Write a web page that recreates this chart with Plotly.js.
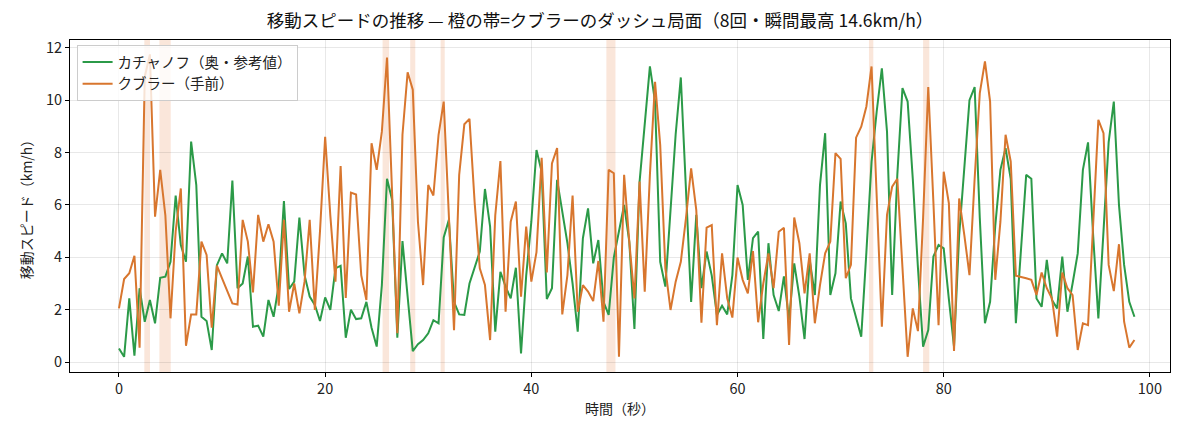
<!DOCTYPE html>
<html>
<head>
<meta charset="utf-8">
<script src="https://cdn.plot.ly/plotly-3.0.1.min.js"></script>
<style>
  html, body { margin: 0; padding: 0; background: #ffffff; }
  #chart { width: 1200px; height: 436px; }
</style>
</head>
<body>
<div id="chart"></div>
<script>
// Time (seconds)
const timeSec = [
  0, 0.5, 1, 1.5, 2, 2.5, 3, 3.5, 4, 4.5,
  5, 5.5, 6, 6.5, 7, 7.5, 8, 8.5, 9, 9.5,
  10, 10.5, 11, 11.5, 12, 12.5, 13, 13.5, 14, 14.5,
  15, 15.5, 16, 16.5, 17, 17.5, 18, 18.5, 19, 19.5,
  20, 20.5, 21, 21.5, 22, 22.5, 23, 23.5, 24, 24.5,
  25, 25.5, 26, 26.5, 27, 27.5, 28, 28.5, 29, 29.5,
  30, 30.5, 31, 31.5, 32, 32.5, 33, 33.5, 34, 34.5,
  35, 35.5, 36, 36.5, 37, 37.5, 38, 38.5, 39, 39.5,
  40, 40.5, 41, 41.5, 42, 42.5, 43, 43.5, 44, 44.5,
  45, 45.5, 46, 46.5, 47, 47.5, 48, 48.5, 49, 49.5,
  50, 50.5, 51, 51.5, 52, 52.5, 53, 53.5, 54, 54.5,
  55, 55.5, 56, 56.5, 57, 57.5, 58, 58.5, 59, 59.5,
  60, 60.5, 61, 61.5, 62, 62.5, 63, 63.5, 64, 64.5,
  65, 65.5, 66, 66.5, 67, 67.5, 68, 68.5, 69, 69.5,
  70, 70.5, 71, 71.5, 72, 72.5, 73, 73.5, 74, 74.5,
  75, 75.5, 76, 76.5, 77, 77.5, 78, 78.5, 79, 79.5,
  80, 80.5, 81, 81.5, 82, 82.5, 83, 83.5, 84, 84.5,
  85, 85.5, 86, 86.5, 87, 87.5, 88, 88.5, 89, 89.5,
  90, 90.5, 91, 91.5, 92, 92.5, 93, 93.5, 94, 94.5,
  95, 95.5, 96, 96.5, 97, 97.5, 98, 98.5
];

// カチャノフ（奥・参考値） speed km/h
const kachanovSpeed = [
  0.52, 0.2, 2.43, 0.24, 2.82, 1.54, 2.37, 1.48, 3.22, 3.26,
  3.83, 6.36, 4.47, 3.83, 8.42, 6.76, 1.73, 1.57, 0.46, 3.7,
  4.15, 3.77, 6.93, 2.82, 3.0, 4.03, 1.35, 1.39, 0.97, 2.37,
  1.73, 2.94, 6.15, 2.79, 3.07, 5.52, 3.32, 2.5, 2.18, 1.57,
  2.47, 1.99, 3.58, 3.68, 0.93, 2.0, 1.64, 1.67, 2.3, 1.31,
  0.59, 2.94, 7.0, 6.19, 0.93, 4.62, 2.5, 0.42, 0.68, 0.84,
  1.1, 1.6, 1.48, 4.76, 5.43, 2.3, 1.82, 1.8, 3.0, 3.64,
  4.22, 6.61, 5.17, 1.16, 3.45, 2.88, 2.43, 3.6, 0.33, 3.3,
  5.36, 8.1, 7.27, 2.41, 2.82, 6.96, 5.75, 4.54, 3.0, 1.16,
  4.73, 5.87, 3.77, 4.66, 2.3, 1.8, 3.99, 5.0, 6.0, 4.6,
  1.26, 6.89, 9.06, 11.29, 9.95, 3.83, 2.88, 5.87, 8.7, 10.87,
  6.64, 2.3, 5.62, 2.82, 4.22, 3.3, 1.8, 2.15, 1.82, 3.32,
  6.76, 6.0, 3.14, 4.73, 4.98, 0.88, 4.54, 2.56, 1.95, 3.27,
  1.6, 3.77, 2.5, 0.88, 3.9, 2.56, 6.76, 8.74, 2.56, 3.39,
  6.13, 5.3, 2.43, 1.67, 0.97, 4.2, 7.65, 9.57, 11.22, 8.8,
  2.56, 7.15, 10.46, 9.95, 7.0, 3.6, 0.59, 1.22, 4.03, 4.47,
  4.34, 2.4, 0.59, 4.85, 7.4, 10.0, 10.5, 5.5, 1.48, 2.3,
  5.2, 7.34, 8.17, 7.0, 1.48, 4.2, 7.15, 7.0, 2.43, 2.11,
  3.9, 2.37, 2.05, 4.03, 1.92, 3.0, 4.15, 7.34, 8.39, 4.8,
  1.67, 5.0, 8.4, 9.95, 6.0, 3.71, 2.3, 1.73
];

// クブラー（手前） speed km/h
const kublerSpeed = [
  2.05, 3.17, 3.39, 4.06, 0.55, 10.9, 11.75, 5.55, 7.34, 5.6,
  1.67, 5.0, 6.63, 0.62, 1.82, 1.82, 4.6, 4.09, 1.31, 3.68,
  3.2, 2.69, 2.24, 2.2, 5.43, 4.6, 2.66, 5.62, 4.6, 5.26,
  4.6, 2.15, 5.43, 1.92, 3.0, 1.86, 3.07, 5.43, 1.99, 5.0,
  8.6, 5.6, 3.07, 7.49, 2.45, 6.47, 6.4, 3.32, 2.37, 8.36,
  7.34, 8.8, 11.63, 6.4, 1.1, 8.68, 11.07, 10.4, 5.36, 2.94,
  6.76, 6.36, 8.68, 9.95, 5.6, 1.22, 7.15, 9.08, 9.29, 6.1,
  3.58, 2.94, 0.84, 5.6, 7.68, 1.92, 5.36, 6.13, 2.5, 5.17,
  3.07, 4.2, 7.8, 3.42, 7.59, 8.17, 1.82, 3.32, 6.36, 1.92,
  2.94, 2.69, 2.33, 3.86, 1.54, 7.34, 7.21, 0.2, 7.15, 4.6,
  2.43, 6.89, 2.69, 7.15, 10.7, 8.29, 3.58, 1.99, 3.07, 3.83,
  5.5, 7.4, 5.8, 1.5, 5.13, 5.23, 1.41, 4.15, 2.43, 1.7,
  3.99, 3.14, 2.62, 4.24, 1.52, 3.0, 4.15, 2.82, 4.98, 5.13,
  0.65, 5.52, 4.54, 2.62, 4.15, 1.48, 2.94, 4.15, 4.6, 7.98,
  7.76, 3.2, 3.71, 8.57, 8.99, 9.76, 11.29, 6.0, 1.35, 5.62,
  6.7, 7.0, 3.58, 0.2, 2.05, 1.18, 5.5, 10.5, 6.1, 1.41,
  7.27, 6.06, 0.42, 6.25, 4.85, 3.32, 7.0, 10.27, 11.48, 9.95,
  3.14, 5.36, 8.68, 7.66, 3.3, 3.26, 3.2, 3.14, 2.56, 3.42,
  2.82, 2.43, 0.97, 3.42, 2.82, 2.56, 0.46, 1.48, 1.41, 5.3,
  9.25, 8.74, 3.71, 2.71, 4.5, 1.54, 0.55, 0.84
];

// Dash phases of クブラー (start / end, seconds)
const dashStart = [2.46, 3.92, 25.57, 28.25, 31.2, 47.28, 72.75, 78.0];
const dashEnd   = [3.01, 5.02, 26.2, 28.74, 31.6, 48.16, 73.17, 78.6];

const xTicks = [0, 20, 40, 60, 80, 100];
const yTicks = [0, 2, 4, 6, 8, 10, 12];

const FONT = '"Noto Sans CJK JP", "Noto Sans", sans-serif';
const GREEN = '#2b9a48';
const ORANGE = '#d8762e';

const shapes = dashStart.map((s, i) => ({
  type: 'rect', xref: 'x', yref: 'paper',
  x0: s, x1: dashEnd[i], y0: 0, y1: 1,
  fillcolor: 'rgba(232,130,70,0.2)', line: {width: 0}, layer: 'below'
}));

const traces = [
  {
    x: timeSec, y: kachanovSpeed, type: 'scatter', mode: 'lines',
    name: 'カチャノフ（奥・参考値）',
    line: {color: GREEN, width: 2}
  },
  {
    x: timeSec, y: kublerSpeed, type: 'scatter', mode: 'lines',
    name: 'クブラー（手前）',
    line: {color: ORANGE, width: 2}
  }
];

const layout = {
  width: 1200, height: 436,
  margin: {l: 70, r: 30, t: 40, b: 64},
  paper_bgcolor: '#ffffff', plot_bgcolor: '#ffffff',
  font: {family: FONT, size: 14, color: '#222'},
  title: {
    text: '移動スピードの推移 — 橙の帯=クブラーのダッシュ局面（8回・瞬間最高 14.6km/h）',
    font: {family: FONT, size: 17.5, color: '#111'},
    x: 0.5, xanchor: 'center', y: 0.952, yanchor: 'middle', yref: 'container'
  },
  xaxis: {
    range: [-4.75, 101.95],
    tickvals: xTicks, ticks: 'outside', ticklen: 4, tickcolor: '#000',
    showgrid: true, gridcolor: 'rgba(0,0,0,0.09)', gridwidth: 1,
    showline: true, linecolor: '#000', linewidth: 1, mirror: true,
    zeroline: false,
    tickfont: {family: FONT, size: 14.5, color: '#222'},
    title: {text: '時間（秒）', font: {family: FONT, size: 14, color: '#222'}, standoff: 6}
  },
  yaxis: {
    range: [-0.38, 12.3],
    tickvals: yTicks, ticks: 'outside', ticklen: 4, tickcolor: '#000',
    showgrid: true, gridcolor: 'rgba(0,0,0,0.09)', gridwidth: 1,
    showline: true, linecolor: '#000', linewidth: 1, mirror: true,
    zeroline: false,
    tickfont: {family: FONT, size: 14.5, color: '#222'},
    title: {text: '移動スピード（km/h）', font: {family: FONT, size: 14, color: '#222'}, standoff: 10}
  },
  legend: {
    x: 0.006, y: 0.985, xanchor: 'left', yanchor: 'top',
    bgcolor: 'rgba(255,255,255,0.8)', bordercolor: '#cccccc', borderwidth: 1,
    font: {family: FONT, size: 14.5, color: '#222'},
    itemwidth: 30,
    tracegroupgap: 2
  },
  shapes: shapes,
  showlegend: true
};

Plotly.newPlot('chart', traces, layout, {displayModeBar: false, staticPlot: true});
</script>
</body>
</html>
